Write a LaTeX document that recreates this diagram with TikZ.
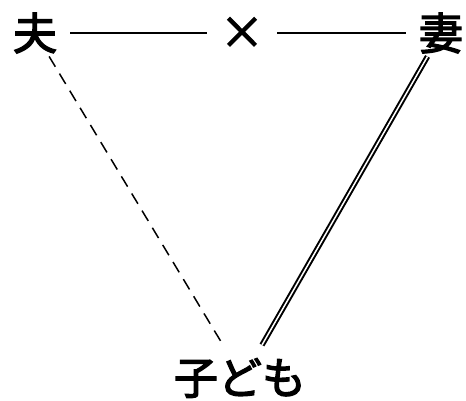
\documentclass[tikz,border=0pt]{standalone}
\usepackage{fontspec}
\newfontfamily\jpfont[BoldFont={Noto Sans CJK JP},BoldFeatures={FakeBold=3}]{Noto Sans CJK JP}
\usetikzlibrary{positioning}

\begin{document}
\begin{tikzpicture}[
  x=1pt, y=-1pt,
  person/.style={inner sep=3pt, font=\jpfont\bfseries\fontsize{44}{48}\selectfont},
  bond/.style={line width=1.8pt, shorten <=10pt, shorten >=10pt},
  weak/.style={line width=1.5pt, dash pattern=on 12pt off 8pt},
  strong/.style={double, line width=2pt, double distance=1.5pt},
]
\useasboundingbox (0,0) rectangle (466,401);

\node[person] (husband) at (35,33) {夫};
\node[person] (cross) at (242,33) {×};
\node[person] (wife) at (441,33) {妻};
\node[person] (child) at (240,378) {子ども};

\coordinate (childL) at (223,345);
\coordinate (childR) at (262,345);

\draw[bond] (husband) -- (cross);
\draw[bond] (cross) -- (wife);
\draw[weak] (husband) -- (childL);
\draw[strong] (wife) -- (childR);
\end{tikzpicture}
\end{document}
